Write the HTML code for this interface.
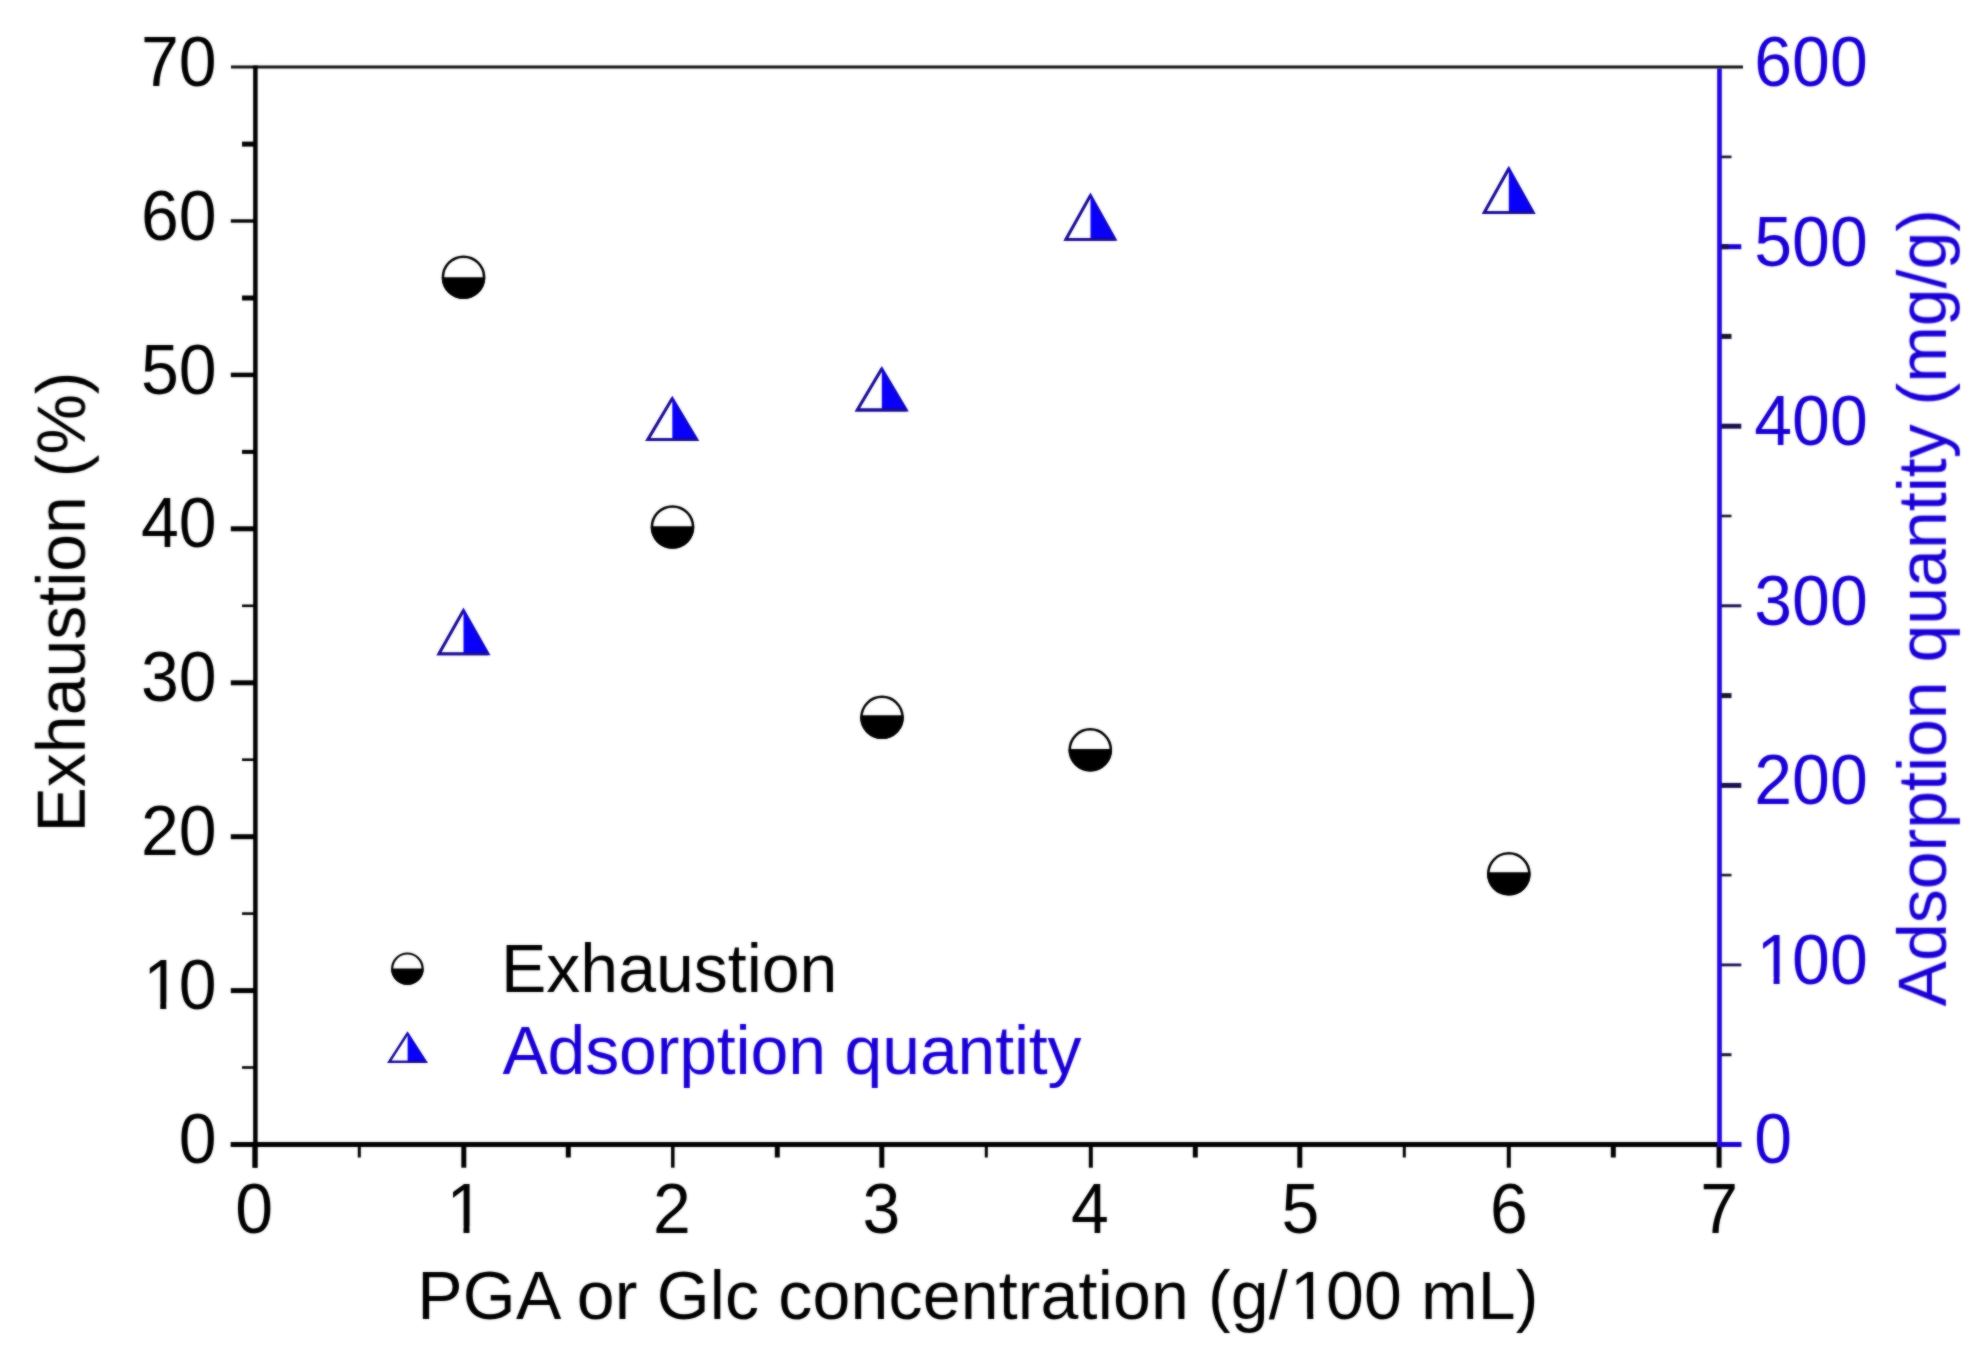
<!DOCTYPE html>
<html lang="en">
<head>
<meta charset="utf-8">
<title>Exhaustion and adsorption quantity vs concentration</title>
<style>
html,body{margin:0;padding:0;background:#fff;}
body{width:1986px;height:1362px;overflow:hidden;}
svg{display:block;}
text{font-family:"Liberation Sans",sans-serif;font-size:68px;}
.k{fill:#000;}
.b{fill:#1a00d4;}
</style>
</head>
<body>
<svg width="1986" height="1362" viewBox="0 0 1986 1362">
<defs><filter id="soft" color-interpolation-filters="sRGB" filterUnits="userSpaceOnUse" x="0" y="0" width="1986" height="1362"><feGaussianBlur stdDeviation="0.8" result="b"/><feComposite in="SourceGraphic" in2="b" operator="arithmetic" k1="0" k2="0.45" k3="0.55" k4="0"/></filter></defs>
<rect width="1986" height="1362" fill="#fff"/>
<g filter="url(#soft)">
<g fill="none">
<line x1="242.0" y1="144.1" x2="255.4" y2="144.1" stroke="#000" stroke-width="5.0"/>
<line x1="230.8" y1="221.0" x2="255.4" y2="221.0" stroke="#000" stroke-width="3.4"/>
<line x1="242.0" y1="298.0" x2="255.4" y2="298.0" stroke="#000" stroke-width="5.0"/>
<line x1="230.8" y1="374.9" x2="255.4" y2="374.9" stroke="#000" stroke-width="4.5"/>
<line x1="242.0" y1="451.9" x2="255.4" y2="451.9" stroke="#000" stroke-width="4.0"/>
<line x1="230.8" y1="528.8" x2="255.4" y2="528.8" stroke="#000" stroke-width="5.0"/>
<line x1="242.0" y1="605.8" x2="255.4" y2="605.8" stroke="#000" stroke-width="2.6"/>
<line x1="230.8" y1="682.8" x2="255.4" y2="682.8" stroke="#000" stroke-width="5.0"/>
<line x1="242.0" y1="759.7" x2="255.4" y2="759.7" stroke="#000" stroke-width="2.6"/>
<line x1="230.8" y1="836.7" x2="255.4" y2="836.7" stroke="#000" stroke-width="5.0"/>
<line x1="242.0" y1="913.6" x2="255.4" y2="913.6" stroke="#000" stroke-width="2.6"/>
<line x1="230.8" y1="990.6" x2="255.4" y2="990.6" stroke="#000" stroke-width="5.0"/>
<line x1="242.0" y1="1067.5" x2="255.4" y2="1067.5" stroke="#000" stroke-width="2.6"/>
<line x1="230.8" y1="1144.5" x2="255.4" y2="1144.5" stroke="#000" stroke-width="5.0"/>
<line x1="254.8" y1="1144.5" x2="254.8" y2="1167.7" stroke="#000" stroke-width="5.0"/>
<line x1="359.3" y1="1144.5" x2="359.3" y2="1157.5" stroke="#000" stroke-width="3.0"/>
<line x1="463.8" y1="1144.5" x2="463.8" y2="1167.7" stroke="#000" stroke-width="5.0"/>
<line x1="568.3" y1="1144.5" x2="568.3" y2="1157.5" stroke="#000" stroke-width="5.0"/>
<line x1="672.8" y1="1144.5" x2="672.8" y2="1167.7" stroke="#000" stroke-width="3.5"/>
<line x1="777.3" y1="1144.5" x2="777.3" y2="1157.5" stroke="#000" stroke-width="5.0"/>
<line x1="881.8" y1="1144.5" x2="881.8" y2="1167.7" stroke="#000" stroke-width="5.0"/>
<line x1="986.3" y1="1144.5" x2="986.3" y2="1157.5" stroke="#000" stroke-width="3.0"/>
<line x1="1090.8" y1="1144.5" x2="1090.8" y2="1167.7" stroke="#000" stroke-width="4.0"/>
<line x1="1195.3" y1="1144.5" x2="1195.3" y2="1157.5" stroke="#000" stroke-width="5.0"/>
<line x1="1299.8" y1="1144.5" x2="1299.8" y2="1167.7" stroke="#000" stroke-width="5.0"/>
<line x1="1404.3" y1="1144.5" x2="1404.3" y2="1157.5" stroke="#000" stroke-width="3.0"/>
<line x1="1508.8" y1="1144.5" x2="1508.8" y2="1167.7" stroke="#000" stroke-width="4.0"/>
<line x1="1613.3" y1="1144.5" x2="1613.3" y2="1157.5" stroke="#000" stroke-width="5.0"/>
<line x1="1719.1" y1="1144.5" x2="1719.1" y2="1167.7" stroke="#000" stroke-width="5.0"/>
<line x1="1719.5" y1="156.9" x2="1731.5" y2="156.9" stroke="#14142c" stroke-width="2.6"/>
<line x1="1719.5" y1="246.7" x2="1741.3" y2="246.7" stroke="#1a00d4" stroke-width="5.0"/>
<line x1="1719.5" y1="246.7" x2="1728.5" y2="246.7" stroke="#18104e" stroke-width="5.0"/>
<line x1="1719.5" y1="336.4" x2="1731.5" y2="336.4" stroke="#14142c" stroke-width="5.0"/>
<line x1="1719.5" y1="426.2" x2="1741.3" y2="426.2" stroke="#18104e" stroke-width="5.0"/>
<line x1="1719.5" y1="516.0" x2="1731.5" y2="516.0" stroke="#14142c" stroke-width="2.6"/>
<line x1="1719.5" y1="605.8" x2="1741.3" y2="605.8" stroke="#18104e" stroke-width="3.0"/>
<line x1="1719.5" y1="695.6" x2="1731.5" y2="695.6" stroke="#14142c" stroke-width="5.0"/>
<line x1="1719.5" y1="785.4" x2="1741.3" y2="785.4" stroke="#18104e" stroke-width="5.0"/>
<line x1="1719.5" y1="875.1" x2="1731.5" y2="875.1" stroke="#14142c" stroke-width="2.6"/>
<line x1="1719.5" y1="964.9" x2="1741.3" y2="964.9" stroke="#18104e" stroke-width="2.8"/>
<line x1="1719.5" y1="1054.7" x2="1731.5" y2="1054.7" stroke="#14142c" stroke-width="3.0"/>
<line x1="1719.5" y1="1144.5" x2="1741.3" y2="1144.5" stroke="#1a00d4" stroke-width="5.0"/>
<line x1="231.0" y1="67.1" x2="1743.0" y2="67.1" stroke="#111" stroke-width="3.0"/>
<line x1="255.4" y1="65.6" x2="255.4" y2="1167.7" stroke="#000" stroke-width="4.5"/>
<line x1="230.8" y1="1144.5" x2="1720.5" y2="1144.5" stroke="#000" stroke-width="5.0"/>
<line x1="1719.5" y1="68.6" x2="1719.5" y2="1147.0" stroke="#2408e0" stroke-width="4.7"/>
<line x1="1721.5" y1="1144.5" x2="1741.3" y2="1144.5" stroke="#1a00d4" stroke-width="5.0"/>
</g>
<text class="k" text-anchor="end" transform="translate(216.6 1163.1) scale(1 1.030)">0</text>
<text class="k" text-anchor="end" transform="translate(214.4 1009.2) scale(1 1.030)"><tspan dx="2.2">1</tspan><tspan dx="-2.2">0</tspan></text>
<text class="k" text-anchor="end" transform="translate(216.6 855.3) scale(1 1.030)">20</text>
<text class="k" text-anchor="end" transform="translate(216.6 701.4) scale(1 1.030)">30</text>
<text class="k" text-anchor="end" transform="translate(216.6 547.4) scale(1 1.030)">40</text>
<text class="k" text-anchor="end" transform="translate(216.6 393.5) scale(1 1.030)">50</text>
<text class="k" text-anchor="end" transform="translate(216.6 239.6) scale(1 1.030)">60</text>
<text class="k" text-anchor="end" transform="translate(216.6 85.7) scale(1 1.030)">70</text>
<text class="k" text-anchor="middle" transform="translate(254.2 1233.3) scale(1 1.030)">0</text>
<text class="k" text-anchor="middle" transform="translate(463.1 1233.3) scale(1 1.030)"><tspan dx="2.2">1</tspan></text>
<text class="k" text-anchor="middle" transform="translate(671.8 1233.3) scale(1 1.030)">2</text>
<text class="k" text-anchor="middle" transform="translate(881.5 1233.3) scale(1 1.030)">3</text>
<text class="k" text-anchor="middle" transform="translate(1089.9 1233.3) scale(1 1.030)">4</text>
<text class="k" text-anchor="middle" transform="translate(1300.4 1233.3) scale(1 1.030)">5</text>
<text class="k" text-anchor="middle" transform="translate(1508.8 1233.3) scale(1 1.030)">6</text>
<text class="k" text-anchor="middle" transform="translate(1719.1 1233.3) scale(1 1.030)">7</text>
<text class="b" text-anchor="start" transform="translate(1754.3 1163.3) scale(1 1.030)">0</text>
<text class="b" text-anchor="start" transform="translate(1754.3 983.7) scale(1 1.030)"><tspan dx="2.2">1</tspan><tspan dx="-2.2">0</tspan>0</text>
<text class="b" text-anchor="start" transform="translate(1754.3 804.2) scale(1 1.030)">200</text>
<text class="b" text-anchor="start" transform="translate(1754.3 624.6) scale(1 1.030)">300</text>
<text class="b" text-anchor="start" transform="translate(1754.3 445.0) scale(1 1.030)">400</text>
<text class="b" text-anchor="start" transform="translate(1754.3 265.5) scale(1 1.030)">500</text>
<text class="b" text-anchor="start" transform="translate(1754.3 85.9) scale(1 1.030)">600</text>
<text class="k" text-anchor="start" transform="translate(417.3 1319.2) scale(1 1.020)" textLength="1121.2" lengthAdjust="spacing">PGA or Glc concentration (g/<tspan dx="2.2">1</tspan><tspan dx="-2.2">0</tspan>0 mL)</text>
<text class="k" text-anchor="middle" transform="translate(85.0 602.0) rotate(-90) scale(1 1.020)">Exhaustion (%)</text>
<text class="b" text-anchor="middle" transform="translate(1946.1 607.7) rotate(-90) scale(1 1.020)">Adsorption quantity (mg/g)</text>
<g><circle cx="463.5" cy="277.2" r="20.55" fill="#fff" stroke="#000" stroke-width="2.5"/><path d="M441.70 277.30 A21.80 21.80 0 0 0 485.30 277.30 Z" fill="#000"/></g>
<g><circle cx="672.5" cy="527.0" r="20.55" fill="#fff" stroke="#000" stroke-width="2.5"/><path d="M650.71 526.30 A21.80 21.80 0 1 0 694.29 526.30 Z" fill="#000"/></g>
<g><circle cx="882.0" cy="717.3" r="20.55" fill="#fff" stroke="#000" stroke-width="2.5"/><path d="M860.30 715.20 A21.80 21.80 0 1 0 903.70 715.20 Z" fill="#000"/></g>
<g><circle cx="1090.3" cy="749.8" r="20.55" fill="#fff" stroke="#000" stroke-width="2.5"/><path d="M1068.51 749.00 A21.80 21.80 0 1 0 1112.09 749.00 Z" fill="#000"/></g>
<g><circle cx="1508.8" cy="873.8" r="20.55" fill="#fff" stroke="#000" stroke-width="2.5"/><path d="M1487.06 872.20 A21.80 21.80 0 1 0 1530.54 872.20 Z" fill="#000"/></g>
<g><path d="M463.50 610.40 L488.08 653.80 L438.92 653.80 Z" fill="#fff"/><path d="M463.50 610.40 L488.08 653.80 L463.50 653.80 Z" fill="#0800f8"/><path d="M463.50 610.40 L488.08 653.80 L438.92 653.80 Z" fill="none" stroke="#1004d0" stroke-width="2.8" stroke-linejoin="miter"/><path d="M463.50 610.40 L438.92 653.80 L488.08 653.80" fill="none" stroke="#1a0c8c" stroke-width="2.8" stroke-linejoin="miter" stroke-linecap="butt"/></g>
<g><path d="M672.30 398.40 L696.88 439.70 L647.72 439.70 Z" fill="#fff"/><path d="M672.30 398.40 L696.88 439.70 L672.30 439.70 Z" fill="#0800f8"/><path d="M672.30 398.40 L696.88 439.70 L647.72 439.70 Z" fill="none" stroke="#1004d0" stroke-width="2.8" stroke-linejoin="miter"/><path d="M672.30 398.40 L647.72 439.70 L696.88 439.70" fill="none" stroke="#1a0c8c" stroke-width="2.8" stroke-linejoin="miter" stroke-linecap="butt"/></g>
<g><path d="M881.80 368.70 L906.38 410.00 L857.22 410.00 Z" fill="#fff"/><path d="M881.80 368.70 L906.38 410.00 L881.80 410.00 Z" fill="#0800f8"/><path d="M881.80 368.70 L906.38 410.00 L857.22 410.00 Z" fill="none" stroke="#1004d0" stroke-width="2.8" stroke-linejoin="miter"/><path d="M881.80 368.70 L857.22 410.00 L906.38 410.00" fill="none" stroke="#1a0c8c" stroke-width="2.8" stroke-linejoin="miter" stroke-linecap="butt"/></g>
<g><path d="M1090.50 195.40 L1115.08 239.40 L1065.92 239.40 Z" fill="#fff"/><path d="M1090.50 195.40 L1115.08 239.40 L1090.50 239.40 Z" fill="#0800f8"/><path d="M1090.50 195.40 L1115.08 239.40 L1065.92 239.40 Z" fill="none" stroke="#1004d0" stroke-width="2.8" stroke-linejoin="miter"/><path d="M1090.50 195.40 L1065.92 239.40 L1115.08 239.40" fill="none" stroke="#1a0c8c" stroke-width="2.8" stroke-linejoin="miter" stroke-linecap="butt"/></g>
<g><path d="M1508.80 168.70 L1533.38 212.60 L1484.22 212.60 Z" fill="#fff"/><path d="M1508.80 168.70 L1533.38 212.60 L1508.80 212.60 Z" fill="#0800f8"/><path d="M1508.80 168.70 L1533.38 212.60 L1484.22 212.60 Z" fill="none" stroke="#1004d0" stroke-width="2.8" stroke-linejoin="miter"/><path d="M1508.80 168.70 L1484.22 212.60 L1533.38 212.60" fill="none" stroke="#1a0c8c" stroke-width="2.8" stroke-linejoin="miter" stroke-linecap="butt"/></g>
<g><circle cx="407.4" cy="968.7" r="15.20" fill="#fff" stroke="#000" stroke-width="2.2"/><path d="M391.10 968.50 A16.30 16.30 0 1 0 423.70 968.50 Z" fill="#000"/></g>
<g><path d="M407.60 1033.30 L425.99 1061.90 L389.21 1061.90 Z" fill="#fff"/><path d="M407.60 1033.30 L425.99 1061.90 L407.60 1061.90 Z" fill="#0800f8"/><path d="M407.60 1033.30 L425.99 1061.90 L389.21 1061.90 Z" fill="none" stroke="#1004d0" stroke-width="2.2" stroke-linejoin="miter"/><path d="M407.60 1033.30 L389.21 1061.90 L425.99 1061.90" fill="none" stroke="#1a0c8c" stroke-width="2.2" stroke-linejoin="miter" stroke-linecap="butt"/></g>
<text class="k" text-anchor="start" transform="translate(501.0 991.8) scale(1 1.020)">Exhaustion</text>
<text class="b" text-anchor="start" transform="translate(502.4 1074.3) scale(1 1.020)" textLength="579.2" lengthAdjust="spacing">Adsorption quantity</text>
<g>
<rect x="147.34" y="1002.47" width="12.92" height="7.83" fill="#fff"/>
<rect x="166.27" y="1002.47" width="12.39" height="7.83" fill="#fff"/>
<rect x="450.57" y="1226.57" width="12.92" height="7.83" fill="#fff"/>
<rect x="469.50" y="1226.57" width="12.39" height="7.83" fill="#fff"/>
<rect x="1760.68" y="976.97" width="12.92" height="7.83" fill="#fff"/>
<rect x="1779.61" y="976.97" width="12.39" height="7.83" fill="#fff"/>
<rect x="1294.32" y="1312.52" width="12.92" height="7.78" fill="#fff"/>
<rect x="1313.25" y="1312.52" width="12.39" height="7.78" fill="#fff"/>
</g>
</g>
</svg>
</body>
</html>
